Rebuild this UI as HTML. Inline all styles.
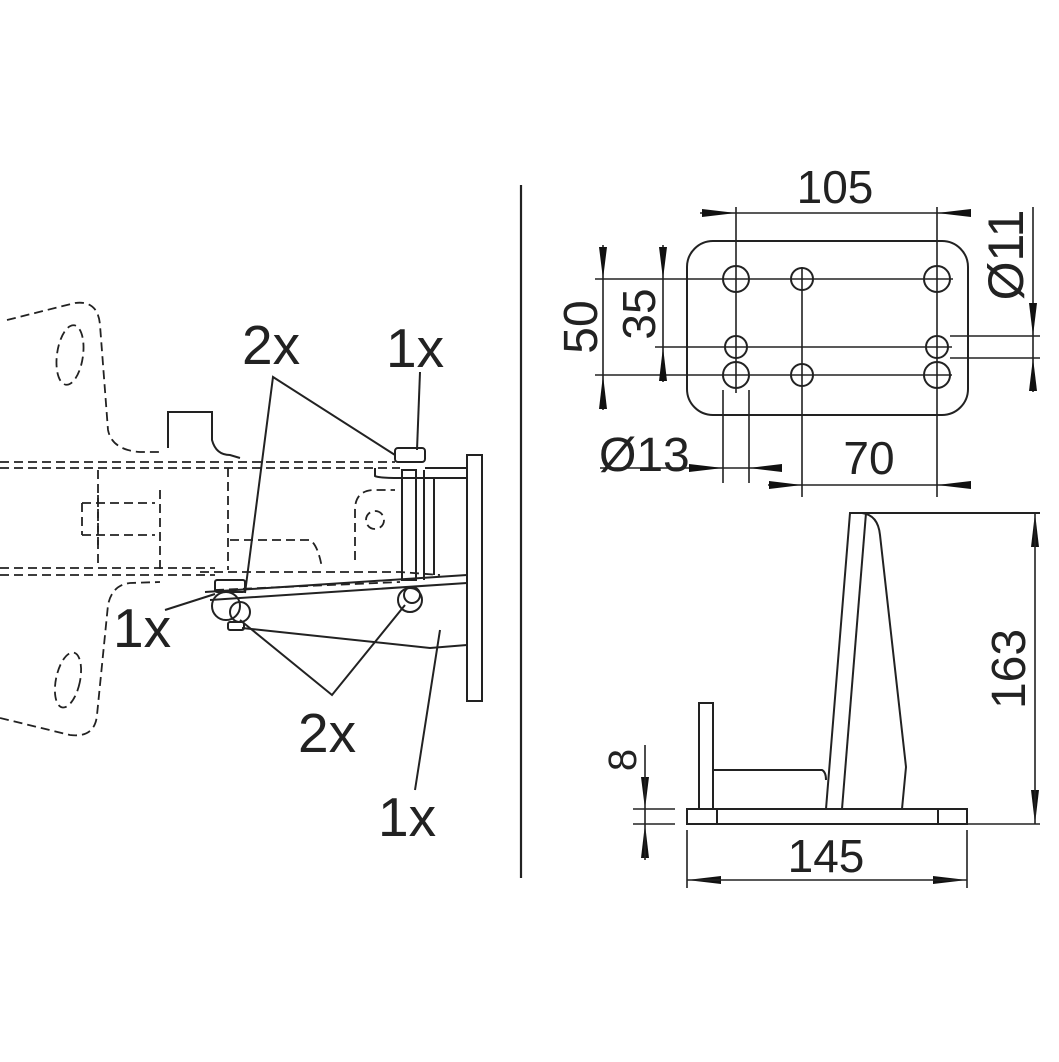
<!DOCTYPE html>
<html><head><style>html,body{margin:0;padding:0;background:#fff}</style></head>
<body>
<svg width="1059" height="1057" viewBox="0 0 1059 1057" xmlns="http://www.w3.org/2000/svg" font-family="Liberation Sans, sans-serif" fill="none" stroke="#222" stroke-width="2">
<!-- divider -->
<line x1="521" y1="185" x2="521" y2="878" stroke-width="2.2"/>

<!-- LEFT DRAWING -->
<g stroke-dasharray="9,5" stroke-width="1.8">
  <line x1="0" y1="462" x2="395" y2="462"/>
  <line x1="0" y1="468" x2="400" y2="468"/>
  <line x1="0" y1="568" x2="215" y2="568"/>
  <line x1="0" y1="575" x2="215" y2="575"/>
  <path d="M7 320 L75 303 Q98 300 100 325 L108 430 Q112 450 140 452 L160 452"/>
  <ellipse cx="70" cy="355" rx="13" ry="30" transform="rotate(8 70 355)"/>
  <path d="M0 718 L70 735 Q95 738 97 715 L108 605 Q112 585 130 583 L160 582"/>
  <ellipse cx="68" cy="680" rx="12" ry="28" transform="rotate(12 68 680)"/>
  <path d="M98 470 L98 568"/>
  <path d="M82 503 L155 503 M82 535 L155 535 M82 503 L82 535 M98 495 L98 545"/>
  <path d="M160 490 L160 575"/>
  <path d="M228 468 L228 570"/>
  <path d="M230 540 L310 540 Q318 545 322 568"/>
  <path d="M355 560 L355 510 Q355 490 375 490 L395 490"/>
  <circle cx="375" cy="520" r="9"/>
  <path d="M200 572 L400 572 L440 575"/>
  <path d="M215 590 L400 582"/>
</g>
<path d="M168 448 L168 412 L212 412 L212 440 Q216 455 230 455 L240 458"/>
<path d="M375 468 L375 476 Q378 478 400 478 L467 478"/>
<line x1="425" y1="468" x2="467" y2="468"/>
<rect x="467" y="455" width="15" height="246"/>
<rect x="402" y="470" width="14" height="110"/>
<line x1="424" y1="470" x2="424" y2="580"/>
<line x1="434" y1="478" x2="434" y2="575"/>
<path d="M205 592 L467 575 M210 600 L467 583"/>
<path d="M242 628 L430 648 L467 645"/>
<rect x="395" y="448" width="30" height="14" rx="3"/>
<rect x="215" y="580" width="30" height="12" rx="2"/>
<circle cx="226" cy="606" r="14"/>
<circle cx="240" cy="612" r="10"/>
<circle cx="410" cy="600" r="12"/>
<circle cx="412" cy="595" r="8"/>
<rect x="228" y="622" width="16" height="8" rx="2"/>
<!-- leaders -->
<path d="M395 455 L273 377 L245 593"/>
<line x1="420" y1="372" x2="417" y2="450"/>
<line x1="165" y1="610" x2="215" y2="594"/>
<path d="M240 620 L332 695 L405 605"/>
<line x1="415" y1="790" x2="440" y2="630"/>
<g fill="#222" stroke="none" font-size="55">
  <text x="242" y="364">2x</text>
  <text x="386" y="367">1x</text>
  <text x="113" y="647">1x</text>
  <text x="298" y="752">2x</text>
  <text x="378" y="836">1x</text>
</g>

<!-- TOP VIEW -->
<rect x="687" y="241" width="281" height="174" rx="26"/>
<g>
  <circle cx="736" cy="279" r="13"/><circle cx="802" cy="279" r="11"/><circle cx="937" cy="279" r="13"/>
  <circle cx="736" cy="347" r="11"/><circle cx="937" cy="347" r="11"/>
  <circle cx="736" cy="375" r="13"/><circle cx="802" cy="375" r="11"/><circle cx="937" cy="375" r="13"/>
</g>
<g stroke-width="1.6">
  <line x1="595" y1="279" x2="953" y2="279"/>
  <line x1="655" y1="347" x2="952" y2="347"/>
  <line x1="595" y1="375" x2="952" y2="375"/>
  <line x1="736" y1="207" x2="736" y2="393"/>
  <line x1="802" y1="267" x2="802" y2="497"/>
  <line x1="937" y1="207" x2="937" y2="497"/>
  <line x1="700" y1="213" x2="971" y2="213"/>
  <line x1="603" y1="245" x2="603" y2="410"/>
  <line x1="663" y1="245" x2="663" y2="382"/>
  <line x1="1033" y1="207" x2="1033" y2="392"/>
  <line x1="950" y1="336" x2="1040" y2="336"/>
  <line x1="950" y1="358" x2="1040" y2="358"/>
  <line x1="600" y1="468" x2="782" y2="468"/>
  <line x1="723" y1="390" x2="723" y2="483"/>
  <line x1="749" y1="390" x2="749" y2="483"/>
  <line x1="768" y1="485" x2="971" y2="485"/>
</g>
<g fill="#111" stroke="none">
  <polygon points="736,213 702,209 702,217"/>
  <polygon points="937,213 971,209 971,217"/>
  <polygon points="603,279 599,247 607,247"/>
  <polygon points="603,375 599,409 607,409"/>
  <polygon points="663,279 659,247 667,247"/>
  <polygon points="663,347 659,381 667,381"/>
  <polygon points="1033,336 1029,303 1037,303"/>
  <polygon points="1033,358 1029,391 1037,391"/>
  <polygon points="723,468 689,464 689,472"/>
  <polygon points="749,468 782,464 782,472"/>
  <polygon points="802,485 769,481 769,489"/>
  <polygon points="937,485 971,481 971,489"/>
  <polygon points="645,809 641,777 649,777"/>
  <polygon points="645,824 641,858 649,858"/>
  <polygon points="1035,513 1031,547 1039,547"/>
  <polygon points="1035,824 1031,790 1039,790"/>
  <polygon points="687,880 721,876 721,884"/>
  <polygon points="967,880 933,876 933,884"/>
</g>
<g fill="#222" stroke="none" font-size="46">
  <text x="835" y="203" text-anchor="middle">105</text>
  <text x="599" y="471" font-size="48">Ø13</text>
  <text x="869" y="474" text-anchor="middle">70</text>
  <text transform="translate(597 327) rotate(-90)" text-anchor="middle" font-size="48">50</text>
  <text transform="translate(655 314) rotate(-90)" text-anchor="middle">35</text>
  <text transform="translate(1023 255) rotate(-90)" text-anchor="middle" font-size="50">Ø11</text>
  <text transform="translate(1025 669) rotate(-90)" text-anchor="middle" font-size="48">163</text>
  <text x="826" y="872" text-anchor="middle" font-size="46">145</text>
  <text transform="translate(636 760) rotate(-90)" text-anchor="middle" font-size="40">8</text>
</g>

<!-- SIDE VIEW -->
<rect x="687" y="809" width="280" height="15"/>
<line x1="717" y1="809" x2="717" y2="824"/>
<line x1="938" y1="809" x2="938" y2="824"/>
<rect x="699" y="703" width="14" height="106"/>
<path d="M713 770 L822 770 Q826 772 826 780"/>
<path d="M826 809 L850 513 L1040 513"/>
<path d="M842 809 L866 513"/>
<path d="M862 513 Q878 515 880 535 L906 767 L902 809"/>
<g stroke-width="1.6">
  <line x1="1035" y1="513" x2="1035" y2="824"/>
  <line x1="967" y1="824" x2="1040" y2="824"/>
  <line x1="687" y1="880" x2="967" y2="880"/>
  <line x1="687" y1="830" x2="687" y2="888"/>
  <line x1="967" y1="830" x2="967" y2="888"/>
  <line x1="645" y1="745" x2="645" y2="860"/>
  <line x1="633" y1="809" x2="675" y2="809"/>
  <line x1="633" y1="824" x2="675" y2="824"/>
</g>
</svg>
</body></html>
